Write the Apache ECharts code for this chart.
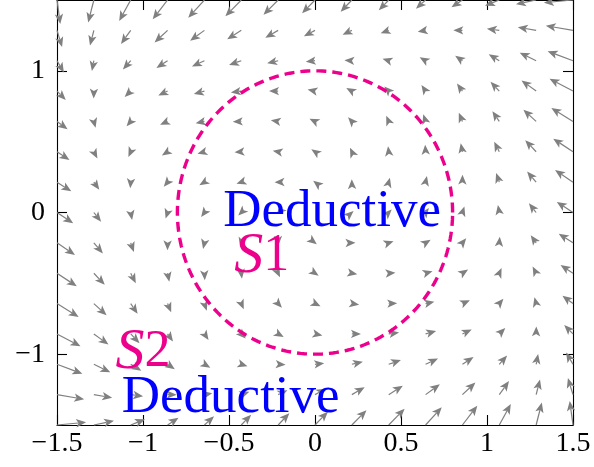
<!DOCTYPE html>
<html>
<head>
<meta charset="utf-8">
<script src="https://cdn.jsdelivr.net/npm/echarts@6/dist/echarts.min.js"></script>
<style>
  html, body { margin: 0; padding: 0; background: #ffffff; }
  #chart { width: 594px; height: 467px; }
</style>
</head>
<body>
<div id="chart"></div>
<script>
// Sample positions of the vector field (identical on both axes)
const xSamples = [-1.5, -1.2857, -1.0714, -0.8571, -0.6429, -0.4286, -0.2143, 0, 0.2143, 0.4286, 0.6429, 0.8571, 1.0714, 1.2857, 1.5];
const ySamples = [-1.5, -1.2857, -1.0714, -0.8571, -0.6429, -0.4286, -0.2143, 0, 0.2143, 0.4286, 0.6429, 0.8571, 1.0714, 1.2857, 1.5];

// Horizontal field component, one row per y sample (lowest row first)
const fieldU = [
  [3.38, 2.34, 1.66, 1.27, 1.12, 1.15, 1.30, 1.50, 1.70, 1.85, 1.88, 1.73, 1.34, 0.66, -0.38],
  [3.16, 2.13, 1.44, 1.06, 0.91, 0.94, 1.08, 1.29, 1.49, 1.64, 1.66, 1.51, 1.13, 0.45, -0.59],
  [2.95, 1.91, 1.23, 0.84, 0.69, 0.72, 0.87, 1.07, 1.28, 1.42, 1.45, 1.30, 0.91, 0.23, -0.80],
  [2.73, 1.70, 1.02, 0.63, 0.48, 0.51, 0.65, 0.86, 1.06, 1.21, 1.23, 1.08, 0.70, 0.02, -1.02],
  [2.52, 1.48, 0.80, 0.42, 0.27, 0.29, 0.44, 0.64, 0.85, 0.99, 1.02, 0.87, 0.48, -0.20, -1.23],
  [2.30, 1.27, 0.59, 0.20, 0.05, 0.08, 0.22, 0.43, 0.63, 0.78, 0.81, 0.66, 0.27, -0.41, -1.45],
  [2.09, 1.05, 0.37, -0.01, -0.16, -0.14, 0.01, 0.21, 0.42, 0.56, 0.59, 0.44, 0.06, -0.63, -1.66],
  [1.88, 0.84, 0.16, -0.23, -0.38, -0.35, -0.20, 0, 0.20, 0.35, 0.38, 0.23, -0.16, -0.84, -1.88],
  [1.66, 0.63, -0.06, -0.44, -0.59, -0.56, -0.42, -0.21, -0.01, 0.14, 0.16, 0.01, -0.37, -1.05, -2.09],
  [1.45, 0.41, -0.27, -0.66, -0.81, -0.78, -0.63, -0.43, -0.22, -0.08, -0.05, -0.20, -0.59, -1.27, -2.30],
  [1.23, 0.20, -0.48, -0.87, -1.02, -0.99, -0.85, -0.64, -0.44, -0.29, -0.27, -0.42, -0.80, -1.48, -2.52],
  [1.02, -0.02, -0.70, -1.08, -1.23, -1.21, -1.06, -0.86, -0.65, -0.51, -0.48, -0.63, -1.02, -1.70, -2.73],
  [0.80, -0.23, -0.91, -1.30, -1.45, -1.42, -1.28, -1.07, -0.87, -0.72, -0.69, -0.84, -1.23, -1.91, -2.95],
  [0.59, -0.45, -1.13, -1.51, -1.66, -1.64, -1.49, -1.29, -1.08, -0.94, -0.91, -1.06, -1.44, -2.13, -3.16],
  [0.38, -0.66, -1.34, -1.73, -1.88, -1.85, -1.70, -1.50, -1.30, -1.15, -1.12, -1.27, -1.66, -2.34, -3.38]
];

// Vertical field component, same layout
const fieldV = [
  [0.38, 0.59, 0.80, 1.02, 1.23, 1.45, 1.66, 1.88, 2.09, 2.30, 2.52, 2.73, 2.95, 3.16, 3.38],
  [-0.66, -0.45, -0.23, -0.02, 0.20, 0.41, 0.63, 0.84, 1.05, 1.27, 1.48, 1.70, 1.91, 2.13, 2.34],
  [-1.34, -1.13, -0.91, -0.70, -0.48, -0.27, -0.06, 0.16, 0.37, 0.59, 0.80, 1.02, 1.23, 1.44, 1.66],
  [-1.73, -1.51, -1.30, -1.08, -0.87, -0.66, -0.44, -0.23, -0.01, 0.20, 0.42, 0.63, 0.84, 1.06, 1.27],
  [-1.88, -1.66, -1.45, -1.23, -1.02, -0.81, -0.59, -0.38, -0.16, 0.05, 0.27, 0.48, 0.69, 0.91, 1.12],
  [-1.85, -1.64, -1.42, -1.21, -0.99, -0.78, -0.56, -0.35, -0.14, 0.08, 0.29, 0.51, 0.72, 0.94, 1.15],
  [-1.70, -1.49, -1.28, -1.06, -0.85, -0.63, -0.42, -0.20, 0.01, 0.22, 0.44, 0.65, 0.87, 1.08, 1.30],
  [-1.50, -1.29, -1.07, -0.86, -0.64, -0.43, -0.21, 0, 0.21, 0.43, 0.64, 0.86, 1.07, 1.29, 1.50],
  [-1.30, -1.08, -0.87, -0.65, -0.44, -0.22, -0.01, 0.20, 0.42, 0.63, 0.85, 1.06, 1.28, 1.49, 1.70],
  [-1.15, -0.94, -0.72, -0.51, -0.29, -0.08, 0.14, 0.35, 0.56, 0.78, 0.99, 1.21, 1.42, 1.64, 1.85],
  [-1.12, -0.91, -0.69, -0.48, -0.27, -0.05, 0.16, 0.38, 0.59, 0.81, 1.02, 1.23, 1.45, 1.66, 1.88],
  [-1.27, -1.06, -0.84, -0.63, -0.42, -0.20, 0.01, 0.23, 0.44, 0.66, 0.87, 1.08, 1.30, 1.51, 1.73],
  [-1.66, -1.44, -1.23, -1.02, -0.80, -0.59, -0.37, -0.16, 0.06, 0.27, 0.48, 0.70, 0.91, 1.13, 1.34],
  [-2.34, -2.13, -1.91, -1.70, -1.48, -1.27, -1.05, -0.84, -0.63, -0.41, -0.20, 0.02, 0.23, 0.45, 0.66],
  [-3.38, -3.16, -2.95, -2.73, -2.52, -2.30, -2.09, -1.88, -1.66, -1.45, -1.23, -1.02, -0.80, -0.59, -0.38]
];

// Quiver arrow length factor (data units per field unit)
const arrowScale = 0.05;

// Axis ticks
const xTicks = [-1.5, -1, -0.5, 0, 0.5, 1, 1.5];
const yTicks = [-1, 0, 1];

// Dashed boundary of region S1: centre and semi-axes
const regionCenter = [0, 0];
const regionRadii = [0.8, 1];

// Annotations
const labelText = ['Deductive', 'S1', 'S2', 'Deductive'];
const labelX = [0.1, -0.31, -1.0, -0.49];
const labelY = [0, -0.31, -0.99, -1.31];
const labelKind = ['word', 'region', 'region', 'word'];

const ARROW = '#808080';
const PINK = '#EC008C';
const BLUE = '#0000FF';
const SERIF = "'Liberation Serif', 'Times New Roman', serif";

const arrowData = [];
ySamples.forEach(function (y, j) {
  xSamples.forEach(function (x, i) {
    arrowData.push([x, y, fieldU[j][i], fieldV[j][i]]);
  });
});

// One quiver arrow: shaft from the sample point, stealth head at the tip
function renderArrow(params, api) {
  const x = api.value(0), y = api.value(1), u = api.value(2), v = api.value(3);
  if (u === 0 && v === 0) return null;
  const p0 = api.coord([x, y]);
  const p1 = api.coord([x + arrowScale * u, y + arrowScale * v]);
  const dx = p1[0] - p0[0], dy = p1[1] - p0[1];
  const len = Math.sqrt(dx * dx + dy * dy);
  const ux = dx / len, uy = dy / len;
  const nx = -uy, ny = ux;
  const L = 10, W = 4.2, N = 2.4;
  const bx = p1[0] - ux * L, by = p1[1] - uy * L;
  const mx = p1[0] - ux * (L - N), my = p1[1] - uy * (L - N);
  const children = [];
  if (len > L - N) {
    children.push({
      type: 'line',
      shape: { x1: p0[0], y1: p0[1], x2: mx, y2: my },
      style: { stroke: ARROW, lineWidth: 1.2 }
    });
  }
  children.push({
    type: 'polygon',
    shape: { points: [[p1[0], p1[1]], [bx + nx * W, by + ny * W], [mx, my], [bx - nx * W, by - ny * W]] },
    style: { fill: ARROW }
  });
  return { type: 'group', children: children };
}

function renderRegion(params, api) {
  const cx = api.value(0), cy = api.value(1), rx = api.value(2), ry = api.value(3);
  const pts = [];
  const n = 240;
  for (let k = 0; k <= n; k++) {
    const t = (k / n) * Math.PI * 2;
    pts.push(api.coord([cx + rx * Math.cos(t), cy + ry * Math.sin(t)]));
  }
  return {
    type: 'polyline',
    shape: { points: pts },
    style: { stroke: PINK, lineWidth: 3.4, lineDash: [10, 6], fill: null }
  };
}

function renderLabel(params, api) {
  const idx = params.dataIndex;
  const p = api.coord([api.value(0), api.value(1)]);
  const txt = labelText[idx];
  if (labelKind[idx] === 'region') {
    return {
      type: 'text', x: p[0], y: p[1],
      style: {
        text: '{s|' + txt.charAt(0) + '}{n|' + txt.slice(1) + '}',
        align: 'center', verticalAlign: 'middle',
        rich: {
          s: { fontFamily: SERIF, fontStyle: 'italic', fontSize: 58, fill: PINK, color: PINK },
          n: { fontFamily: SERIF, fontSize: 52, fill: PINK, color: PINK }
        }
      }
    };
  }
  return {
    type: 'text', x: p[0], y: p[1],
    style: {
      text: txt, fill: BLUE, font: '53px ' + SERIF,
      align: 'center', verticalAlign: 'middle'
    }
  };
}

const minus = function (v) { return String(v).replace('-', '\u2212'); };
const axisLineStyle = { color: '#000', width: 1.1 };

const chart = echarts.init(document.getElementById('chart'), null, { renderer: 'canvas' });
chart.setOption({
  animation: false,
  backgroundColor: '#ffffff',
  grid: { left: 57, right: 21, top: -2.75, bottom: 42, containLabel: false },
  xAxis: [
    {
      type: 'value', min: -1.5, max: 1.5, interval: 0.5, position: 'bottom',
      axisLine: { onZero: false, lineStyle: axisLineStyle },
      axisTick: { inside: true, length: 10, lineStyle: axisLineStyle, customValues: xTicks },
      axisLabel: { customValues: xTicks, color: '#000', fontFamily: SERIF, fontSize: 28, margin: 5, formatter: minus },
      splitLine: { show: false }
    },
    {
      type: 'value', min: -1.5, max: 1.5, interval: 0.5, position: 'top',
      axisLine: { onZero: false, lineStyle: axisLineStyle },
      axisTick: { inside: true, length: 10, lineStyle: axisLineStyle, customValues: xTicks },
      axisLabel: { show: false },
      splitLine: { show: false }
    }
  ],
  yAxis: [
    {
      type: 'value', min: -1.5, max: 1.5, position: 'left',
      axisLine: { onZero: false, lineStyle: axisLineStyle },
      axisTick: { inside: true, length: 10, lineStyle: axisLineStyle, customValues: yTicks },
      axisLabel: { customValues: yTicks, color: '#000', fontFamily: SERIF, fontSize: 28, margin: 12, formatter: minus },
      splitLine: { show: false }
    },
    {
      type: 'value', min: -1.5, max: 1.5, position: 'right',
      axisLine: { onZero: false, lineStyle: axisLineStyle },
      axisTick: { inside: true, length: 10, lineStyle: axisLineStyle, customValues: yTicks },
      axisLabel: { show: false },
      splitLine: { show: false }
    }
  ],
  series: [
    {
      type: 'custom', xAxisIndex: 0, yAxisIndex: 0, clip: false,
      renderItem: renderArrow, data: arrowData, z: 2, silent: true
    },
    {
      type: 'custom', xAxisIndex: 0, yAxisIndex: 0, clip: false,
      renderItem: renderRegion, data: [[regionCenter[0], regionCenter[1], regionRadii[0], regionRadii[1]]], z: 3, silent: true
    },
    {
      type: 'custom', xAxisIndex: 0, yAxisIndex: 0, clip: false,
      renderItem: renderLabel,
      data: labelX.map(function (x, i) { return [x, labelY[i]]; }), z: 4, silent: true
    }
  ]
});
</script>
</body>
</html>
